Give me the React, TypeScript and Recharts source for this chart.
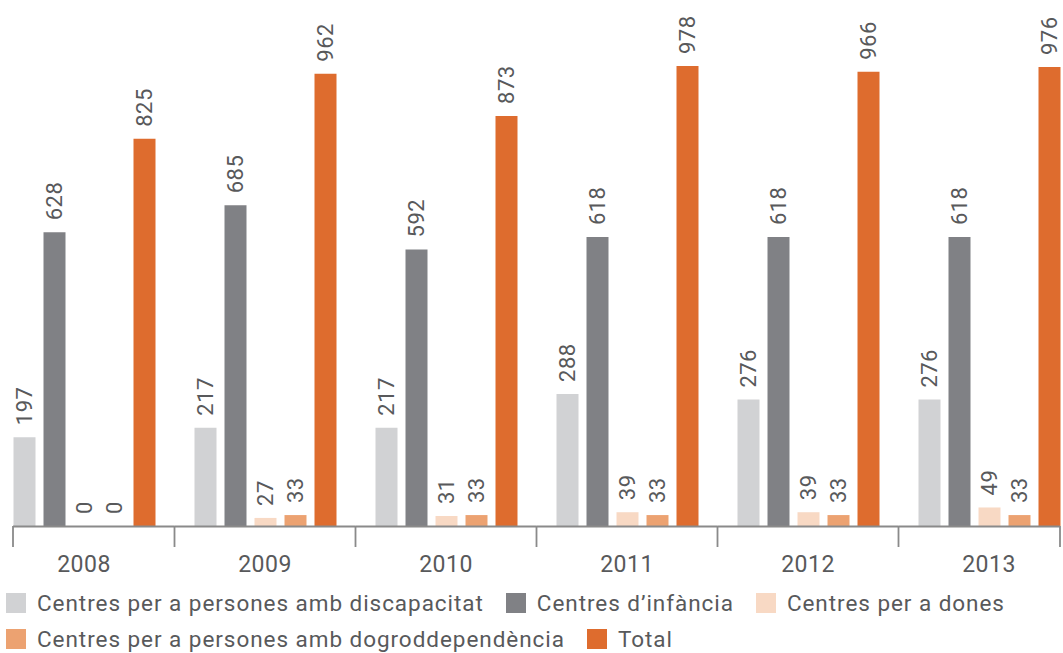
import { Bar, BarChart, LabelList, XAxis, YAxis } from 'recharts'

const years = ['2008', '2009', '2010', '2011', '2012', '2013']
const discapacitat = [197, 217, 217, 288, 276, 276]
const infancia = [628, 685, 592, 618, 618, 618]
const dones = [0, 27, 31, 39, 39, 49]
const drogodependencia = [0, 33, 33, 33, 33, 33]
const total = [825, 962, 873, 978, 966, 976]

const seriesInfo = [
  { key: 'discapacitat', name: 'Centres per a persones amb discapacitat', color: '#d1d2d4' },
  { key: 'infancia', name: 'Centres d\u2019infància', color: '#808185' },
  { key: 'dones', name: 'Centres per a dones', color: '#f8d9c4' },
  { key: 'drogodependencia', name: 'Centres per a persones amb dogroddependència', color: '#eca271' },
  { key: 'total', name: 'Total', color: '#de6c2e' },
]

const data = years.map((year, i) => ({
  year,
  discapacitat: discapacitat[i],
  infancia: infancia[i],
  dones: dones[i],
  drogodependencia: drogodependencia[i],
  total: total[i],
}))

const TEXT = '#58595b'
const FONT = 'Roboto, "Open Sans", sans-serif'
const BASE_Y = 526
const BAND = 181
const GROUP = 142

function ValueLabel(props: any) {
  const { x, y, width, height, value } = props
  const cx = Number(x) + Number(width) / 2
  const top = Math.min(Number(y), Number(y) + Number(height), BASE_Y) - 12
  return (
    <text
      x={cx}
      y={top}
      transform={`rotate(-90, ${cx}, ${top})`}
      textAnchor="start"
      dominantBaseline="central"
      fill={TEXT}
      fontSize={22}
      fontFamily={FONT}
      letterSpacing={0.5}
    >
      {value}
    </text>
  )
}

function YearTick(props: any) {
  const { x, payload, index } = props
  const last = index === years.length - 1
  const left = index === 0 ? x - GROUP / 2 : x - BAND / 2
  const right = last ? x + GROUP / 2 : x + BAND / 2
  return (
    <g>
      <line x1={left} x2={right} y1={BASE_Y + 0.5} y2={BASE_Y + 0.5} stroke="#8a8a8a" strokeWidth={1.8} />
      <line x1={left} x2={left} y1={BASE_Y} y2={BASE_Y + 21} stroke="#8a8a8a" strokeWidth={1.8} />
      {last && <line x1={right} x2={right} y1={BASE_Y} y2={BASE_Y + 21} stroke="#8a8a8a" strokeWidth={1.8} />}
      <text x={x} y={BASE_Y + 38} textAnchor="middle" dominantBaseline="central" fill={TEXT} fontSize={23} fontFamily={FONT} letterSpacing={0.5}>
        {payload.value}
      </text>
    </g>
  )
}

const legendRows = [seriesInfo.slice(0, 3), seriesInfo.slice(3)]

export default function App() {
  return (
    <div style={{ position: 'fixed', inset: 0, overflow: 'hidden', background: '#fff', fontFamily: FONT }}>
      <div style={{ position: 'absolute', left: -20, top: 0 }}>
        <BarChart
          width={1120}
          height={590}
          data={data}
          margin={{ top: 0, right: 20.5, bottom: 34, left: 13.5 }}
          barGap={8}
          barCategoryGap={0}
        >
          <XAxis dataKey="year" axisLine={false} tickLine={false} height={30} tick={<YearTick />} interval={0} />
          <YAxis hide domain={[10, 1117]} allowDataOverflow />
          {seriesInfo.map((s) => (
            <Bar key={s.key} dataKey={s.key} name={s.name} fill={s.color} barSize={22} isAnimationActive={false}>
              <LabelList dataKey={s.key} content={<ValueLabel />} />
            </Bar>
          ))}
        </BarChart>
      </div>
      <div style={{ position: 'absolute', left: 6, top: 585, color: TEXT, fontSize: 22.5, letterSpacing: 0.95, lineHeight: '26px' }}>
        {legendRows.map((row, r) => (
          <div key={r} style={{ display: 'flex', alignItems: 'center', height: 36 }}>
            {row.map((s) => (
              <div key={s.key} style={{ display: 'flex', alignItems: 'center', marginRight: 22 }}>
                <span style={{ width: 20, height: 20, background: s.color, marginRight: 11, display: 'inline-block' }} />
                <span>{s.name}</span>
              </div>
            ))}
          </div>
        ))}
      </div>
    </div>
  )
}
